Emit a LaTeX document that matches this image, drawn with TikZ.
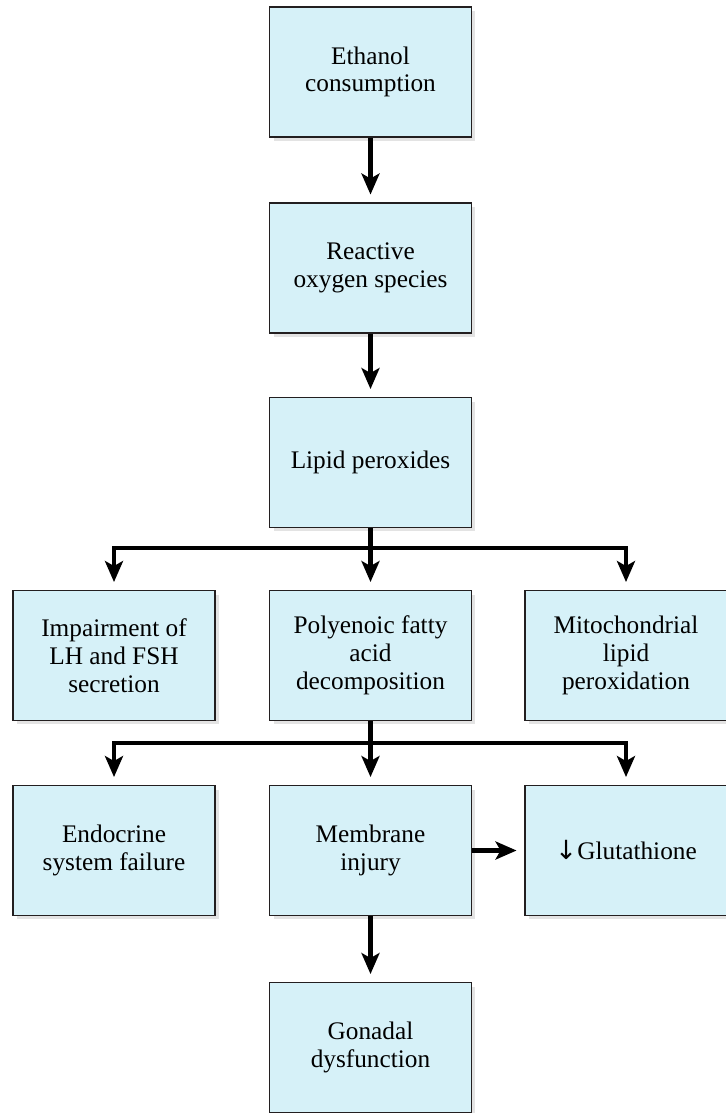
\documentclass[tikz,border=0pt]{standalone}
\usepackage{fontspec}
\setmainfont{Liberation Serif}
\newfontfamily\arrowfont{DejaVu Sans}
\usetikzlibrary{arrows.meta,shadows}
\definecolor{boxfill}{RGB}{214,241,248}
\definecolor{boxline}{RGB}{35,31,32}

\begin{document}
\begin{tikzpicture}[x=0.02cm, y=-0.02cm,
	stage/.style={draw=boxline, line width=1.1pt, fill=boxfill,
		minimum width=4.04cm, minimum height=2.6cm, align=center,
		font=\fontsize{14.4}{15.8}\selectfont,
		drop shadow={opacity=0.22, shadow xshift=0.08cm, shadow yshift=-0.08cm}},
	link/.style={line width=2.6pt, draw=black, line join=miter},
	flow/.style={link, -{Stealth[length=0.42cm, width=0.36cm, inset=0.1cm]}, shorten >=0.15cm}]
		%%%%% START %%%%%
		
		\useasboundingbox (0, 0) rectangle (726, 1113);
		
		\node[stage] (ethanol) at (370.5, 72) {Ethanol\\consumption};
		\node[stage] (ros) at (370.5, 268) {Reactive\\oxygen species};
		\node[stage] (lipid) at (370.5, 462.5) {Lipid peroxides};
		
		\node[stage] (impair) at (114, 655.5) {Impairment of\\LH and FSH\\secretion};
		\node[stage] (poly) at (370.5, 655.5) {Polyenoic fatty\\acid\\decomposition};
		\node[stage] (mito) at (626, 655.5) {Mitochondrial\\lipid\\peroxidation};
		
		\node[stage] (endo) at (114, 850.5) {Endocrine\\system failure};
		\node[stage] (memb) at (370.5, 850.5) {Membrane\\injury};
		\node[stage] (gluta) at (626, 850.5) {{\arrowfont\fontsize{15}{15.8}\selectfont ↓}Glutathione};
		
		\node[stage] (gonad) at (370.5, 1047.5) {Gonadal\\dysfunction};
		
		\coordinate (split1) at (370.5, 548);
		\coordinate (split2) at (370.5, 743);
		
		\draw[flow] (ethanol) -- (ros);
		\draw[flow] (ros) -- (lipid);
		
		\draw[link] (lipid) -- (split1);
		\draw[flow] (split1) -| (impair.north);
		\draw[flow] (split1) -- (poly);
		\draw[flow] (split1) -| (mito.north);
		
		\draw[link] (poly) -- (split2);
		\draw[flow] (split2) -| (endo.north);
		\draw[flow] (split2) -- (memb);
		\draw[flow] (split2) -| (gluta.north);
		
		\draw[flow] (memb) -- (gluta);
		\draw[flow] (memb) -- (gonad);
		
		%%%%% END %%%%%
\end{tikzpicture}
\end{document}
